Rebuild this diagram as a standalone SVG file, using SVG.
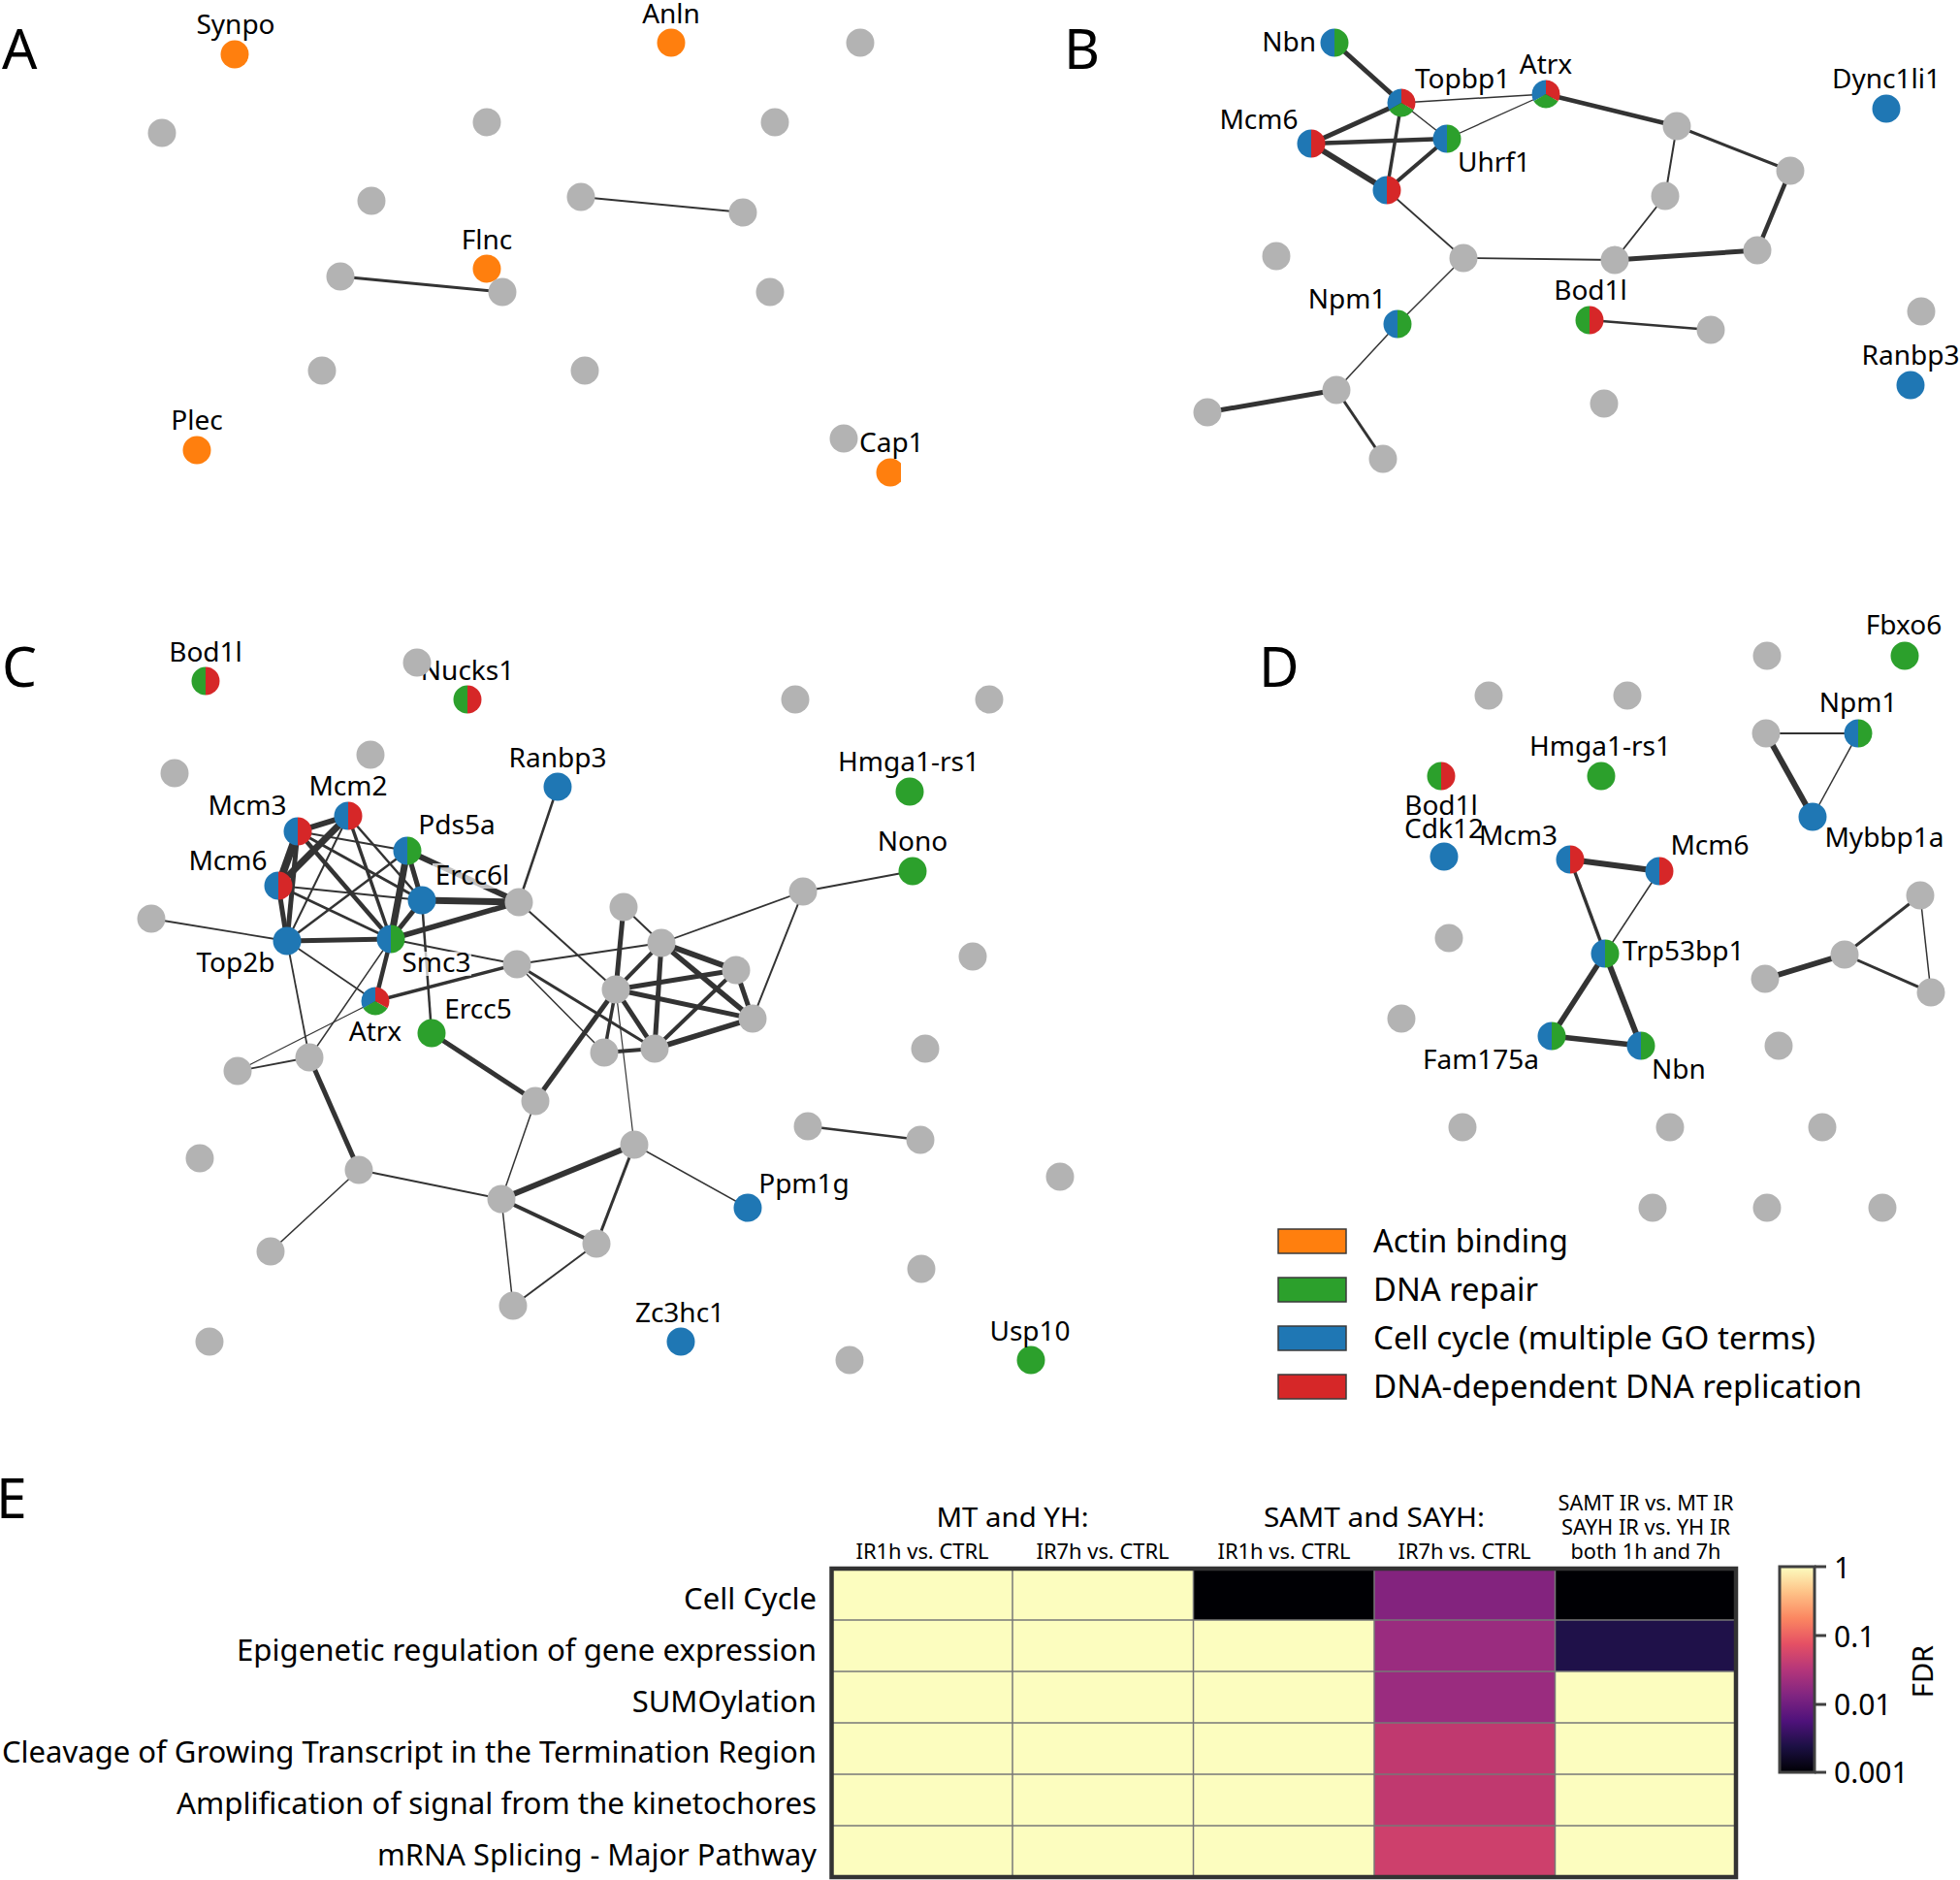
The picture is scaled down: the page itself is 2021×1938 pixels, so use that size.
<svg xmlns="http://www.w3.org/2000/svg" width="2021" height="1938" viewBox="0 0 2021 1938">
<style>
text{font-family:'Noto Sans','DejaVu Sans',sans-serif;fill:#000}
.lb{font-size:28px;text-anchor:middle}
.ls{font-size:28px;text-anchor:start}
.le{font-size:28px;text-anchor:end}
.pl{font-size:57px}
.lg{font-size:32px}
.rl{font-size:31px;text-anchor:end}
.ch{font-size:28px;text-anchor:middle}
.sh{font-size:21px;text-anchor:middle}
.tk{font-size:30px}
.bx{fill:#fff;fill-opacity:0.7}
#edges line{stroke:#333333;stroke-linecap:butt}
.lt{fill:#fcfdbf}
</style>
<defs>
<circle id="gy" r="14.5" fill="#b3b3b3"/>
<circle id="bl" r="14.5" fill="#1f77b4"/>
<circle id="gn" r="14.5" fill="#2ca02c"/>
<circle id="or" r="14.5" fill="#ff7f0e"/>
<g id="bg"><path d="M0,-14.5A14.5,14.5 0 0 0 0,14.5Z" fill="#1f77b4"/><path d="M0,-14.5A14.5,14.5 0 0 1 0,14.5Z" fill="#2ca02c"/></g>
<g id="br"><path d="M0,-14.5A14.5,14.5 0 0 0 0,14.5Z" fill="#1f77b4"/><path d="M0,-14.5A14.5,14.5 0 0 1 0,14.5Z" fill="#d62728"/></g>
<g id="gr"><path d="M0,-14.5A14.5,14.5 0 0 0 0,14.5Z" fill="#2ca02c"/><path d="M0,-14.5A14.5,14.5 0 0 1 0,14.5Z" fill="#d62728"/></g>
<g id="bgr"><path d="M0,0L0,-14.5A14.5,14.5 0 0 0 -12.557,7.25Z" fill="#1f77b4"/><path d="M0,0L-12.557,7.25A14.5,14.5 0 0 0 12.557,7.25Z" fill="#2ca02c"/><path d="M0,0L12.557,7.25A14.5,14.5 0 0 0 0,-14.5Z" fill="#d62728"/></g>
<clipPath id="capclip"><rect x="890" y="460" width="39" height="60"/></clipPath>
<linearGradient id="magma" x1="0" y1="0" x2="0" y2="1">
<stop offset="0" stop-color="#fcfdbf"/><stop offset="0.125" stop-color="#fec287"/><stop offset="0.25" stop-color="#fb8761"/><stop offset="0.375" stop-color="#e55064"/><stop offset="0.5" stop-color="#b5367a"/><stop offset="0.625" stop-color="#812581"/><stop offset="0.75" stop-color="#4f127b"/><stop offset="0.875" stop-color="#1c1044"/><stop offset="1" stop-color="#000004"/>
</linearGradient>
</defs>
<rect width="2021" height="1938" fill="#fff"/>

<!-- panel letters -->
<text class="pl" x="2" y="71">A</text>
<text class="pl" x="1097" y="71">B</text>
<text class="pl" x="2" y="708">C</text>
<text class="pl" x="1298" y="708">D</text>
<text class="pl" x="-4" y="1565">E</text>

<g id="edges">
<!-- A -->
<line x1="599" y1="203" x2="766" y2="219" stroke-width="2"/>
<line x1="351" y1="285" x2="518" y2="301" stroke-width="3"/>
<!-- B -->
<line x1="1376" y1="44" x2="1445" y2="106" stroke-width="5"/>
<line x1="1445" y1="106" x2="1594" y2="97" stroke-width="1.5"/>
<line x1="1445" y1="106" x2="1352" y2="148" stroke-width="5"/>
<line x1="1445" y1="106" x2="1492" y2="143" stroke-width="1.5"/>
<line x1="1445" y1="106" x2="1430" y2="196" stroke-width="3.5"/>
<line x1="1352" y1="148" x2="1492" y2="143" stroke-width="4.5"/>
<line x1="1352" y1="148" x2="1430" y2="196" stroke-width="6"/>
<line x1="1492" y1="143" x2="1430" y2="196" stroke-width="4"/>
<line x1="1492" y1="143" x2="1594" y2="97" stroke-width="1.3"/>
<line x1="1594" y1="97" x2="1729" y2="130" stroke-width="4.5"/>
<line x1="1729" y1="130" x2="1846" y2="176" stroke-width="3"/>
<line x1="1729" y1="130" x2="1717" y2="202" stroke-width="2"/>
<line x1="1846" y1="176" x2="1812" y2="258" stroke-width="4.5"/>
<line x1="1812" y1="258" x2="1665" y2="268" stroke-width="5"/>
<line x1="1717" y1="202" x2="1665" y2="268" stroke-width="1.8"/>
<line x1="1665" y1="268" x2="1509" y2="266" stroke-width="1.8"/>
<line x1="1430" y1="196" x2="1509" y2="266" stroke-width="1.8"/>
<line x1="1509" y1="266" x2="1441" y2="334" stroke-width="1.5"/>
<line x1="1441" y1="334" x2="1378" y2="402" stroke-width="1.5"/>
<line x1="1378" y1="402" x2="1245" y2="425" stroke-width="5"/>
<line x1="1378" y1="402" x2="1426" y2="473" stroke-width="3"/>
<line x1="1639" y1="330" x2="1764" y2="340" stroke-width="2.5"/>
<!-- C -->
<line x1="307" y1="857" x2="359" y2="841" stroke-width="6"/>
<line x1="307" y1="857" x2="287" y2="913" stroke-width="8"/>
<line x1="359" y1="841" x2="287" y2="913" stroke-width="7"/>
<line x1="307" y1="857" x2="296" y2="970" stroke-width="5"/>
<line x1="359" y1="841" x2="296" y2="970" stroke-width="2"/>
<line x1="287" y1="913" x2="296" y2="970" stroke-width="5"/>
<line x1="307" y1="857" x2="403" y2="968" stroke-width="4.5"/>
<line x1="359" y1="841" x2="403" y2="968" stroke-width="3.5"/>
<line x1="359" y1="841" x2="435" y2="928" stroke-width="2.5"/>
<line x1="307" y1="857" x2="420" y2="877" stroke-width="2"/>
<line x1="307" y1="857" x2="435" y2="928" stroke-width="3"/>
<line x1="287" y1="913" x2="435" y2="928" stroke-width="2"/>
<line x1="287" y1="913" x2="403" y2="968" stroke-width="2.5"/>
<line x1="296" y1="970" x2="420" y2="877" stroke-width="2.5"/>
<line x1="296" y1="970" x2="403" y2="968" stroke-width="5"/>
<line x1="420" y1="877" x2="403" y2="968" stroke-width="7"/>
<line x1="420" y1="877" x2="435" y2="928" stroke-width="5"/>
<line x1="420" y1="877" x2="535" y2="930" stroke-width="6"/>
<line x1="435" y1="928" x2="535" y2="930" stroke-width="7"/>
<line x1="435" y1="928" x2="403" y2="968" stroke-width="5"/>
<line x1="435" y1="928" x2="445" y2="1065" stroke-width="2.5"/>
<line x1="403" y1="968" x2="535" y2="930" stroke-width="5.5"/>
<line x1="403" y1="968" x2="533" y2="994" stroke-width="2"/>
<line x1="403" y1="968" x2="387" y2="1032" stroke-width="4.5"/>
<line x1="296" y1="970" x2="387" y2="1032" stroke-width="1.8"/>
<line x1="296" y1="970" x2="319" y2="1090" stroke-width="1.8"/>
<line x1="296" y1="970" x2="156" y2="947" stroke-width="1.8"/>
<line x1="403" y1="968" x2="319" y2="1090" stroke-width="1.5"/>
<line x1="387" y1="1032" x2="245" y2="1104" stroke-width="1.2"/>
<line x1="319" y1="1090" x2="245" y2="1104" stroke-width="1.8"/>
<line x1="387" y1="1032" x2="533" y2="994" stroke-width="3.5"/>
<line x1="445" y1="1065" x2="552" y2="1135" stroke-width="5"/>
<line x1="319" y1="1090" x2="370" y2="1206" stroke-width="5"/>
<line x1="575" y1="811" x2="535" y2="930" stroke-width="2.5"/>
<line x1="535" y1="930" x2="635" y2="1020" stroke-width="2"/>
<line x1="533" y1="994" x2="682" y2="972" stroke-width="2"/>
<line x1="533" y1="994" x2="675" y2="1081" stroke-width="3"/>
<line x1="533" y1="994" x2="623" y2="1085" stroke-width="1.5"/>
<line x1="643" y1="935" x2="635" y2="1020" stroke-width="5"/>
<line x1="643" y1="935" x2="682" y2="972" stroke-width="2"/>
<line x1="682" y1="972" x2="828" y2="919" stroke-width="1.8"/>
<line x1="828" y1="919" x2="941" y2="898" stroke-width="1.8"/>
<line x1="828" y1="919" x2="776" y2="1050" stroke-width="2"/>
<line x1="682" y1="972" x2="759" y2="1000" stroke-width="6"/>
<line x1="682" y1="972" x2="776" y2="1050" stroke-width="5.5"/>
<line x1="682" y1="972" x2="675" y2="1081" stroke-width="5"/>
<line x1="682" y1="972" x2="635" y2="1020" stroke-width="4"/>
<line x1="635" y1="1020" x2="759" y2="1000" stroke-width="5"/>
<line x1="635" y1="1020" x2="776" y2="1050" stroke-width="5"/>
<line x1="635" y1="1020" x2="675" y2="1081" stroke-width="5"/>
<line x1="635" y1="1020" x2="623" y2="1085" stroke-width="3.5"/>
<line x1="759" y1="1000" x2="776" y2="1050" stroke-width="5"/>
<line x1="759" y1="1000" x2="675" y2="1081" stroke-width="4"/>
<line x1="776" y1="1050" x2="675" y2="1081" stroke-width="5.5"/>
<line x1="623" y1="1085" x2="675" y2="1081" stroke-width="4"/>
<line x1="635" y1="1020" x2="552" y2="1135" stroke-width="5"/>
<line x1="635" y1="1020" x2="654" y2="1180" stroke-width="1.2"/>
<line x1="552" y1="1135" x2="517" y2="1236" stroke-width="1.5"/>
<line x1="370" y1="1206" x2="517" y2="1236" stroke-width="2"/>
<line x1="370" y1="1206" x2="279" y2="1290" stroke-width="1.5"/>
<line x1="517" y1="1236" x2="654" y2="1180" stroke-width="6"/>
<line x1="517" y1="1236" x2="615" y2="1282" stroke-width="4"/>
<line x1="517" y1="1236" x2="529" y2="1346" stroke-width="1.5"/>
<line x1="654" y1="1180" x2="615" y2="1282" stroke-width="3"/>
<line x1="615" y1="1282" x2="529" y2="1346" stroke-width="2"/>
<line x1="654" y1="1180" x2="771" y2="1245" stroke-width="1.5"/>
<line x1="833" y1="1161" x2="949" y2="1175" stroke-width="2.5"/>
<!-- D -->
<line x1="1821" y1="756" x2="1916" y2="756" stroke-width="2"/>
<line x1="1821" y1="756" x2="1869" y2="842" stroke-width="6"/>
<line x1="1916" y1="756" x2="1869" y2="842" stroke-width="1.5"/>
<line x1="1619" y1="886" x2="1711" y2="898" stroke-width="6"/>
<line x1="1619" y1="886" x2="1655" y2="983" stroke-width="3.5"/>
<line x1="1711" y1="898" x2="1655" y2="983" stroke-width="1.5"/>
<line x1="1655" y1="983" x2="1600" y2="1068" stroke-width="5.5"/>
<line x1="1655" y1="983" x2="1692" y2="1078" stroke-width="6"/>
<line x1="1600" y1="1068" x2="1692" y2="1078" stroke-width="5.5"/>
<line x1="1820" y1="1009" x2="1902" y2="984" stroke-width="6"/>
<line x1="1902" y1="984" x2="1980" y2="923" stroke-width="3"/>
<line x1="1902" y1="984" x2="1991" y2="1023" stroke-width="3"/>
<line x1="1980" y1="923" x2="1991" y2="1023" stroke-width="1.5"/>
</g>

<!-- Panel A nodes -->
<g id="A-Synpo"><use href="#or" x="242" y="56"/><text class="lb" x="243" y="35">Synpo</text></g>
<g id="A-Anln"><use href="#or" x="692" y="44"/><text class="lb" x="692" y="24">Anln</text></g>
<g id="A-n1"><use href="#gy" x="887" y="44"/></g>
<g id="A-n2"><use href="#gy" x="167" y="137"/></g>
<g id="A-n3"><use href="#gy" x="502" y="126"/></g>
<g id="A-n4"><use href="#gy" x="799" y="126"/></g>
<g id="A-n5"><use href="#gy" x="383" y="207"/></g>
<g id="A-n6"><use href="#gy" x="599" y="203"/></g>
<g id="A-n7"><use href="#gy" x="766" y="219"/></g>
<g id="A-Flnc"><use href="#or" x="502" y="277"/><text class="lb" x="502" y="257">Flnc</text></g>
<g id="A-n8"><use href="#gy" x="351" y="285"/></g>
<g id="A-n9"><use href="#gy" x="518" y="301"/></g>
<g id="A-n10"><use href="#gy" x="794" y="301"/></g>
<g id="A-n11"><use href="#gy" x="332" y="382"/></g>
<g id="A-n12"><use href="#gy" x="603" y="382"/></g>
<g id="A-Plec"><use href="#or" x="203" y="464"/><text class="lb" x="203" y="443">Plec</text></g>
<g id="A-n13"><use href="#gy" x="870" y="452"/></g>
<g id="A-Cap1"><g clip-path="url(#capclip)"><use href="#or" x="918" y="487"/></g><text class="ls" x="886" y="466">Cap1</text></g>

<!-- Panel B nodes -->
<g id="B-Nbn"><use href="#bg" x="1376" y="44"/><text class="le" x="1357" y="53">Nbn</text></g>
<g id="B-Topbp1"><use href="#bgr" x="1445" y="106"/><text class="ls" x="1459" y="91">Topbp1</text></g>
<g id="B-Atrx"><use href="#bgr" x="1594" y="97"/><text class="lb" x="1594" y="76">Atrx</text></g>
<g id="B-Mcm6"><use href="#br" x="1352" y="148"/><text class="lb" x="1298" y="133">Mcm6</text></g>
<g id="B-Uhrf1"><use href="#bg" x="1492" y="143"/><text class="ls" x="1503" y="177">Uhrf1</text></g>
<g id="B-n0"><use href="#br" x="1430" y="196"/></g>
<g id="B-n1"><use href="#gy" x="1729" y="130"/></g>
<g id="B-n2"><use href="#gy" x="1846" y="176"/></g>
<g id="B-n3"><use href="#gy" x="1717" y="202"/></g>
<g id="B-n4"><use href="#gy" x="1812" y="258"/></g>
<g id="B-n5"><use href="#gy" x="1665" y="268"/></g>
<g id="B-n6"><use href="#gy" x="1509" y="266"/></g>
<g id="B-n7"><use href="#gy" x="1316" y="264"/></g>
<g id="B-Npm1"><use href="#bg" x="1441" y="334"/><text class="lb" x="1389" y="318">Npm1</text></g>
<g id="B-Bod1l"><use href="#gr" x="1639" y="330"/><text class="lb" x="1640" y="309">Bod1l</text></g>
<g id="B-n8"><use href="#gy" x="1764" y="340"/></g>
<g id="B-n9"><use href="#gy" x="1981" y="321"/></g>
<g id="B-Ranbp3"><use href="#bl" x="1970" y="397"/><text class="lb" x="1970" y="376">Ranbp3</text></g>
<g id="B-Dync1li1"><use href="#bl" x="1945" y="112"/><text class="lb" x="1945" y="91">Dync1li1</text></g>
<g id="B-n10"><use href="#gy" x="1378" y="402"/></g>
<g id="B-n11"><use href="#gy" x="1245" y="425"/></g>
<g id="B-n12"><use href="#gy" x="1426" y="473"/></g>
<g id="B-n13"><use href="#gy" x="1654" y="416"/></g>

<!-- Panel C nodes -->
<g id="C-Bod1l"><use href="#gr" x="212" y="702"/><text class="lb" x="212" y="682">Bod1l</text></g>
<g id="C-Nucks1"><use href="#gr" x="482" y="721"/><text class="lb" x="482" y="701">Nucks1</text></g>
<g id="C-n0"><use href="#gy" x="430" y="683"/></g>
<g id="C-n1"><use href="#gy" x="180" y="797"/></g>
<g id="C-n2"><use href="#gy" x="382" y="778"/></g>
<g id="C-Mcm2"><use href="#br" x="359" y="841"/><text class="lb" x="359" y="820">Mcm2</text></g>
<g id="C-Mcm3"><use href="#br" x="307" y="857"/><text class="lb" x="255" y="840">Mcm3</text></g>
<g id="C-Pds5a"><use href="#bg" x="420" y="877"/><text class="lb" x="471" y="860">Pds5a</text></g>
<g id="C-Mcm6"><use href="#br" x="287" y="913"/><text class="lb" x="235" y="897">Mcm6</text></g>
<g id="C-Ercc6l"><use href="#bl" x="435" y="928"/><rect class="bx" x="446" y="890" width="82" height="26"/><text class="lb" x="487" y="912">Ercc6l</text></g>
<g id="C-Top2b"><use href="#bl" x="296" y="970"/><text class="lb" x="243" y="1002">Top2b</text></g>
<g id="C-Smc3"><use href="#bg" x="403" y="968"/><rect class="bx" x="416" y="981" width="70" height="25"/><text class="lb" x="450" y="1002">Smc3</text></g>
<g id="C-Atrx"><use href="#bgr" x="387" y="1032"/><text class="lb" x="387" y="1073">Atrx</text></g>
<g id="C-Ercc5"><use href="#gn" x="445" y="1065"/><text class="lb" x="493" y="1050">Ercc5</text></g>
<g id="C-Ranbp3"><use href="#bl" x="575" y="811"/><text class="lb" x="575" y="791">Ranbp3</text></g>
<g id="C-Hmga1-rs1"><use href="#gn" x="938" y="816"/><text class="lb" x="937" y="795">Hmga1-rs1</text></g>
<g id="C-Nono"><use href="#gn" x="941" y="898"/><text class="lb" x="941" y="877">Nono</text></g>
<g id="C-Ppm1g"><use href="#bl" x="771" y="1245"/><text class="lb" x="829" y="1230">Ppm1g</text></g>
<g id="C-Zc3hc1"><use href="#bl" x="702" y="1383"/><text class="lb" x="701" y="1363">Zc3hc1</text></g>
<g id="C-Usp10"><use href="#gn" x="1063" y="1402"/><text class="lb" x="1062" y="1382">Usp10</text></g>
<g id="C-n3"><use href="#gy" x="535" y="930"/></g>
<g id="C-n4"><use href="#gy" x="533" y="994"/></g>
<g id="C-n5"><use href="#gy" x="156" y="947"/></g>
<g id="C-n6"><use href="#gy" x="319" y="1090"/></g>
<g id="C-n7"><use href="#gy" x="245" y="1104"/></g>
<g id="C-n8"><use href="#gy" x="643" y="935"/></g>
<g id="C-n9"><use href="#gy" x="828" y="919"/></g>
<g id="C-n10"><use href="#gy" x="682" y="972"/></g>
<g id="C-n11"><use href="#gy" x="759" y="1000"/></g>
<g id="C-n12"><use href="#gy" x="635" y="1020"/></g>
<g id="C-n13"><use href="#gy" x="776" y="1050"/></g>
<g id="C-n14"><use href="#gy" x="623" y="1085"/></g>
<g id="C-n15"><use href="#gy" x="675" y="1081"/></g>
<g id="C-n16"><use href="#gy" x="552" y="1135"/></g>
<g id="C-n17"><use href="#gy" x="370" y="1206"/></g>
<g id="C-n18"><use href="#gy" x="517" y="1236"/></g>
<g id="C-n19"><use href="#gy" x="654" y="1180"/></g>
<g id="C-n20"><use href="#gy" x="615" y="1282"/></g>
<g id="C-n21"><use href="#gy" x="529" y="1346"/></g>
<g id="C-n22"><use href="#gy" x="279" y="1290"/></g>
<g id="C-n23"><use href="#gy" x="833" y="1161"/></g>
<g id="C-n24"><use href="#gy" x="949" y="1175"/></g>
<g id="C-n25"><use href="#gy" x="820" y="721"/></g>
<g id="C-n26"><use href="#gy" x="1020" y="721"/></g>
<g id="C-n27"><use href="#gy" x="1003" y="986"/></g>
<g id="C-n28"><use href="#gy" x="954" y="1081"/></g>
<g id="C-n29"><use href="#gy" x="1093" y="1213"/></g>
<g id="C-n30"><use href="#gy" x="950" y="1308"/></g>
<g id="C-n31"><use href="#gy" x="876" y="1402"/></g>
<g id="C-n32"><use href="#gy" x="206" y="1194"/></g>
<g id="C-n33"><use href="#gy" x="216" y="1383"/></g>

<!-- Panel D nodes -->
<g id="D-Fbxo6"><use href="#gn" x="1964" y="676"/><text class="lb" x="1963" y="654">Fbxo6</text></g>
<g id="D-n1"><use href="#gy" x="1822" y="676"/></g>
<g id="D-n2"><use href="#gy" x="1535" y="717"/></g>
<g id="D-n3"><use href="#gy" x="1678" y="717"/></g>
<g id="D-n4"><use href="#gy" x="1821" y="756"/></g>
<g id="D-Npm1"><use href="#bg" x="1916" y="756"/><text class="lb" x="1916" y="734">Npm1</text></g>
<g id="D-Mybbp1a"><use href="#bl" x="1869" y="842"/><text class="lb" x="1943" y="873">Mybbp1a</text></g>
<g id="D-Hmga1-rs1"><use href="#gn" x="1651" y="800"/><text class="lb" x="1650" y="779">Hmga1-rs1</text></g>
<g id="D-Bod1l"><use href="#gr" x="1486" y="800"/><text class="lb" x="1486" y="840">Bod1l</text></g>
<g id="D-Cdk12"><use href="#bl" x="1489" y="883"/><text class="lb" x="1489" y="864">Cdk12</text></g>
<g id="D-Mcm3"><use href="#br" x="1619" y="886"/><text class="le" x="1606" y="871">Mcm3</text></g>
<g id="D-Mcm6"><use href="#br" x="1711" y="898"/><text class="lb" x="1763" y="881">Mcm6</text></g>
<g id="D-n5"><use href="#gy" x="1980" y="923"/></g>
<g id="D-n6"><use href="#gy" x="1494" y="967"/></g>
<g id="D-Trp53bp1"><use href="#bg" x="1655" y="983"/><text class="ls" x="1673" y="990">Trp53bp1</text></g>
<g id="D-n7"><use href="#gy" x="1902" y="984"/></g>
<g id="D-n8"><use href="#gy" x="1820" y="1009"/></g>
<g id="D-n9"><use href="#gy" x="1991" y="1023"/></g>
<g id="D-n10"><use href="#gy" x="1445" y="1050"/></g>
<g id="D-Fam175a"><use href="#bg" x="1600" y="1068"/><text class="lb" x="1527" y="1102">Fam175a</text></g>
<g id="D-Nbn"><use href="#bg" x="1692" y="1078"/><text class="lb" x="1731" y="1112">Nbn</text></g>
<g id="D-n11"><use href="#gy" x="1834" y="1078"/></g>
<g id="D-n12"><use href="#gy" x="1508" y="1162"/></g>
<g id="D-n13"><use href="#gy" x="1722" y="1162"/></g>
<g id="D-n14"><use href="#gy" x="1879" y="1162"/></g>
<g id="D-n15"><use href="#gy" x="1704" y="1245"/></g>
<g id="D-n16"><use href="#gy" x="1822" y="1245"/></g>
<g id="D-n17"><use href="#gy" x="1941" y="1245"/></g>

<!-- Legend -->
<g id="legend" stroke="#3a3a3a" stroke-width="1.5">
<rect x="1318" y="1267" width="70" height="25" fill="#ff7f0e"/>
<rect x="1318" y="1317" width="70" height="25" fill="#2ca02c"/>
<rect x="1318" y="1367" width="70" height="25" fill="#1f77b4"/>
<rect x="1318" y="1417" width="70" height="25" fill="#d62728"/>
</g>
<g id="legend-text">
<text class="lg" x="1416" y="1291" textLength="201" lengthAdjust="spacingAndGlyphs">Actin binding</text>
<text class="lg" x="1416" y="1341" textLength="170" lengthAdjust="spacingAndGlyphs">DNA repair</text>
<text class="lg" x="1416" y="1391" textLength="456" lengthAdjust="spacingAndGlyphs">Cell cycle (multiple GO terms)</text>
<text class="lg" x="1416" y="1441" textLength="504" lengthAdjust="spacingAndGlyphs">DNA-dependent DNA replication</text>
</g>

<!-- Heatmap -->
<g id="heatmap">
<rect class="lt" x="857.5" y="1617" width="373" height="53"/>
<rect x="1230.5" y="1617" width="186.5" height="53" fill="#000004"/>
<rect x="1417" y="1617" width="186.5" height="53" fill="#83237e"/>
<rect x="1603.5" y="1617" width="186.5" height="53" fill="#000004"/>
<rect class="lt" x="857.5" y="1670" width="559.5" height="265"/>
<rect x="1417" y="1670" width="186.5" height="106" fill="#9a2c7f"/>
<rect x="1603.5" y="1670" width="186.5" height="53" fill="#1f1149"/>
<rect class="lt" x="1603.5" y="1723" width="186.5" height="212"/>
<rect x="1417" y="1776" width="186.5" height="106" fill="#c0396f"/>
<rect x="1417" y="1882" width="186.5" height="53" fill="#cd406c"/>
<g stroke="#777" stroke-width="1.5">
<line x1="1044" y1="1617" x2="1044" y2="1935"/>
<line x1="1230.5" y1="1617" x2="1230.5" y2="1935"/>
<line x1="1417" y1="1617" x2="1417" y2="1935"/>
<line x1="1603.5" y1="1617" x2="1603.5" y2="1935"/>
<line x1="857.5" y1="1670" x2="1790" y2="1670"/>
<line x1="857.5" y1="1723" x2="1790" y2="1723"/>
<line x1="857.5" y1="1776" x2="1790" y2="1776"/>
<line x1="857.5" y1="1829" x2="1790" y2="1829"/>
<line x1="857.5" y1="1882" x2="1790" y2="1882"/>
</g>
<rect x="857.5" y="1617" width="932.5" height="318" fill="none" stroke="#333" stroke-width="4.5"/>
<text class="rl" x="842" y="1659">Cell Cycle</text>
<text class="rl" x="842" y="1712" textLength="598" lengthAdjust="spacingAndGlyphs">Epigenetic regulation of gene expression</text>
<text class="rl" x="842" y="1765">SUMOylation</text>
<text class="rl" x="842" y="1817" textLength="840" lengthAdjust="spacingAndGlyphs">Cleavage of Growing Transcript in the Termination Region</text>
<text class="rl" x="842" y="1870" textLength="660" lengthAdjust="spacingAndGlyphs">Amplification of signal from the kinetochores</text>
<text class="rl" x="842" y="1923" textLength="453" lengthAdjust="spacingAndGlyphs">mRNA Splicing - Major Pathway</text>
<text class="ch" x="1044" y="1574" textLength="157" lengthAdjust="spacingAndGlyphs">MT and YH:</text>
<text class="ch" x="1417" y="1574" textLength="228" lengthAdjust="spacingAndGlyphs">SAMT and SAYH:</text>
<text class="sh" x="951" y="1607" textLength="137" lengthAdjust="spacingAndGlyphs">IR1h vs. CTRL</text>
<text class="sh" x="1137" y="1607" textLength="137" lengthAdjust="spacingAndGlyphs">IR7h vs. CTRL</text>
<text class="sh" x="1324" y="1607" textLength="137" lengthAdjust="spacingAndGlyphs">IR1h vs. CTRL</text>
<text class="sh" x="1510" y="1607" textLength="137" lengthAdjust="spacingAndGlyphs">IR7h vs. CTRL</text>
<text class="sh" x="1697" y="1557" textLength="181" lengthAdjust="spacingAndGlyphs">SAMT IR vs. MT IR</text>
<text class="sh" x="1697" y="1582" textLength="174" lengthAdjust="spacingAndGlyphs">SAYH IR vs. YH IR</text>
<text class="sh" x="1697" y="1607" textLength="155" lengthAdjust="spacingAndGlyphs">both 1h and 7h</text>
</g>

<!-- Colorbar -->
<g id="colorbar">
<rect x="1835" y="1615" width="36" height="212" fill="url(#magma)" stroke="#404040" stroke-width="3"/>
<g stroke="#404040" stroke-width="3">
<line x1="1871" y1="1615" x2="1883" y2="1615"/>
<line x1="1871" y1="1686" x2="1883" y2="1686"/>
<line x1="1871" y1="1757" x2="1883" y2="1757"/>
<line x1="1871" y1="1827" x2="1883" y2="1827"/>
</g>
<text class="tk" x="1891" y="1627">1</text>
<text class="tk" x="1891" y="1698">0.1</text>
<text class="tk" x="1891" y="1768">0.01</text>
<text class="tk" x="1891" y="1838">0.001</text>
<text transform="translate(1993,1723) rotate(-90)" font-size="29" text-anchor="middle">FDR</text>
</g>
</svg>
